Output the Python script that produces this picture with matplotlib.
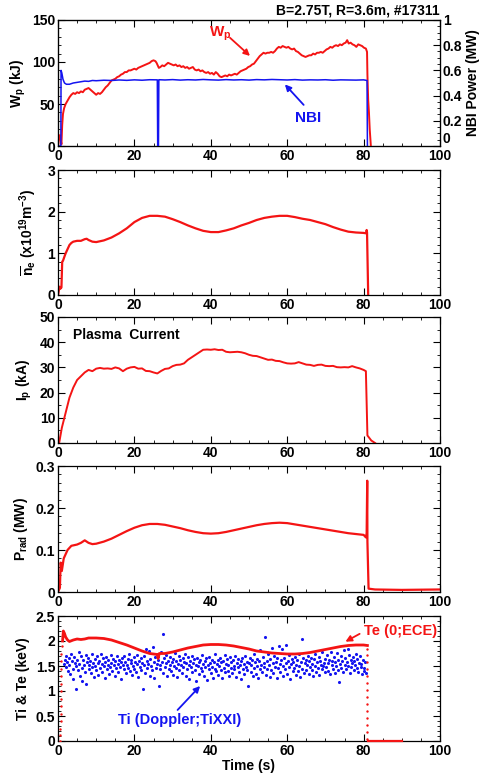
import numpy as np
import matplotlib
matplotlib.use("Agg")
import matplotlib.pyplot as plt
from matplotlib.ticker import MultipleLocator, FuncFormatter

plt.rcParams['font.family'] = ['Liberation Sans', 'DejaVu Sans']
plt.rcParams['font.weight'] = 'bold'
plt.rcParams['axes.labelweight'] = 'bold'
plt.rcParams['mathtext.fontset'] = 'custom'
plt.rcParams['mathtext.rm'] = 'Liberation Sans:bold'
plt.rcParams['mathtext.it'] = 'Liberation Sans:bold'
plt.rcParams['mathtext.bf'] = 'Liberation Sans:bold'
plt.rcParams['mathtext.default'] = 'rm'

RED = '#f41414'
BLUE = '#1414f0'

# ---------------- data ----------------
wp_time = [0, 0.3, 0.5, 0.7, 0.9, 1.1, 1.3, 1.6, 2.0, 2.5, 3.0, 3.5, 4.0, 4.5, 5.0, 5.5, 6.0, 6.5, 7.0, 7.5,
           8.0, 8.5, 9.0, 9.5, 10.0, 10.5, 11.0, 11.5, 12.0, 12.5, 13.0, 13.5, 14.0, 14.5, 15.0, 15.5, 16.0,
           16.5, 17.0, 17.5, 18.0, 18.5, 19.0, 19.5, 20.0, 20.5, 21.0, 21.5, 22.0, 22.5, 23.0, 23.5, 24.0,
           24.5, 25.0, 25.5, 25.8, 26.1, 26.4, 26.8, 27.3, 27.8, 28.3, 28.8, 29.3, 29.8, 30.3, 30.8, 31.3,
           31.8, 32.3, 32.8, 33.3, 33.8, 34.3, 34.8, 35.3, 35.8, 36.3, 36.8, 37.3, 37.8, 38.3, 38.8, 39.3,
           39.8, 40.3, 40.8, 41.3, 41.8, 42.3, 42.8, 43.3, 43.8, 44.3, 44.8, 45.3, 45.8, 46.3, 46.8, 47.3,
           47.8, 48.3, 48.8, 49.3, 49.8, 50.3, 50.8, 51.3, 51.8, 52.3, 52.8, 53.3, 53.8, 54.3, 54.8, 55.3,
           55.8, 56.3, 56.8, 57.3, 57.8, 58.3, 58.8, 59.3, 59.8, 60.3, 60.8, 61.3, 61.8, 62.3, 62.8, 63.3,
           63.8, 64.3, 64.8, 65.3, 65.8, 66.3, 66.8, 67.3, 67.8, 68.3, 68.8, 69.3, 69.8, 70.3, 70.8, 71.3,
           71.8, 72.3, 72.8, 73.3, 73.8, 74.3, 74.8, 75.3, 75.7, 76.1, 76.6, 77.1, 77.6, 78.1, 78.6, 79.1,
           79.6, 80.1, 80.6, 80.9, 81.0, 81.2, 81.4, 81.6, 81.9]
wp_kj = [0, 10, 13, 8, 2, 25, 38, 45, 50, 54, 58, 61, 63, 62, 64, 63, 65, 64, 67, 68,
         69, 67, 65, 63, 61, 63, 62, 64, 67, 70, 72, 75, 78, 79, 80, 82, 83,
         85, 86, 88, 88, 90, 90, 91, 92, 91, 93, 94, 95, 96, 97, 98, 99,
         101, 102, 101, 99, 96, 93, 94, 96, 95, 97, 99, 98, 97, 96, 97, 95,
         96, 94, 95, 93, 94, 92, 93, 94, 91, 90, 91, 89, 90, 88, 87, 88,
         86, 87, 85, 88, 86, 83, 82, 83, 84, 83, 85, 84, 85, 86, 85, 87,
         89, 90, 91, 92, 94, 95, 97, 98, 101, 104, 107, 109, 111, 110, 111, 111,
         112, 111, 113, 116, 118, 117, 119, 118, 117, 118, 116, 115, 116, 113, 112, 110,
         108, 107, 106, 107, 108, 108, 110, 109, 111, 111, 112, 111, 113, 115, 116, 118,
         117, 119, 120, 119, 121, 120, 122, 123, 126, 122, 123, 121, 120, 118, 121, 120,
         119, 117, 116, 112, 85, 55, 40, 20, 0]

nbi_time = [0, 0.75, 0.8, 1.0, 1.3, 1.7, 2.2, 3.0, 4.0, 5.0, 6.0, 7.0, 8.0, 9.0, 10, 12, 14, 16, 18, 20,
            22, 24, 26.0, 26.1, 26.3, 26.4, 28, 30, 32, 34, 36, 38, 40, 42, 44, 46, 48, 50, 52, 54, 56,
            58, 60, 62, 64, 66, 68, 70, 72, 74, 76, 78, 80, 80.9, 81.0]
nbi_mw = [0, 0, 0.6, 0.58, 0.53, 0.50, 0.49, 0.49, 0.50, 0.505, 0.51, 0.515, 0.513, 0.52, 0.518, 0.522, 0.52,
          0.524, 0.521, 0.525, 0.522, 0.526, 0.525, 0, 0, 0.526, 0.524, 0.527, 0.523, 0.526, 0.524, 0.528,
          0.525, 0.523, 0.527, 0.524, 0.526, 0.523, 0.527, 0.525, 0.528, 0.526, 0.524, 0.527, 0.523,
          0.525, 0.524, 0.526, 0.522, 0.525, 0.524, 0.523, 0.525, 0.52, 0]

ne_time = [0, 0.4, 0.6, 0.9, 1.1, 1.3, 1.6, 2, 2.5, 3, 3.5, 4, 5, 6, 7, 7.5, 8, 9, 10, 12, 14, 16, 18, 20,
           22, 24, 26, 28, 30, 32, 34, 36, 38, 40, 42, 44, 46, 48, 50, 52, 54, 56, 58, 60, 62, 64, 66,
           68, 70, 72, 74, 76, 78, 80, 80.7, 80.8, 80.9, 81.2]
ne_val = [0, 0.2, 0.15, 0.18, 0.8, 0.82, 0.9, 1.0, 1.1, 1.2, 1.25, 1.28, 1.3, 1.3, 1.34, 1.35, 1.32, 1.28,
          1.27, 1.31, 1.38, 1.48, 1.6, 1.75, 1.85, 1.9, 1.9, 1.88, 1.82, 1.75, 1.67, 1.6, 1.54, 1.51, 1.51,
          1.55, 1.6, 1.67, 1.73, 1.8, 1.85, 1.88, 1.9, 1.9, 1.87, 1.83, 1.8, 1.75, 1.7, 1.63, 1.57, 1.52,
          1.5, 1.49, 1.48, 1.56, 1.5, 0]

ip_time = [0, 0.3, 1, 2, 3, 4, 5, 6, 7, 8, 9, 10, 11, 12, 13, 14, 15, 16, 17, 18, 19, 20, 21, 22, 23, 24,
           25, 26, 27, 28, 29, 30, 31, 32, 33, 34, 35, 36, 37, 38, 39, 40, 41, 42, 43, 44, 45, 46, 47, 48,
           49, 50, 51, 52, 53, 54, 55, 56, 57, 58, 59, 60, 61, 62, 63, 64, 65, 66, 67, 68, 69, 70, 71, 72,
           73, 74, 75, 76, 77, 78, 79, 80, 80.6, 81.0, 81.5, 82, 83]
ip_ka = [0, 0, 6, 12, 18, 22, 25, 26.5, 28, 29, 28.5, 29.5, 29.8, 29.5, 29.6, 29.4, 30, 29.6, 28.5, 29.5,
         30, 30.2, 29.5, 29.6, 28.6, 28.5, 28, 27.6, 28.6, 29.4, 29.6, 30.5, 31, 31.1, 31.6, 33, 34, 35,
         36, 37, 37.1, 37, 37.2, 36.9, 37, 36.2, 36, 36.1, 36.2, 36, 35.6, 35, 34.6, 34.5, 34, 33.5, 33,
         33.1, 32.6, 32.5, 32, 31.6, 31.5, 31.6, 32.1, 31.6, 31.1, 31, 30.6, 31, 31.1, 30.6, 30.5, 30.6,
         30.1, 30, 30.1, 30, 30.5, 30, 29.6, 29, 28.5, 3, 2, 1, 0]

prad_time = [0, 0.5, 0.7, 1.0, 1.5, 2.5, 3.5, 5, 6, 7, 8, 9, 10, 12, 14, 16, 18, 20, 22, 24, 26, 28, 30, 32,
             34, 36, 38, 40, 42, 44, 46, 48, 50, 52, 54, 56, 58, 60, 62, 64, 66, 68, 70, 72, 74, 76, 78,
             80, 80.6, 80.8, 80.95, 81.0, 81.3, 83, 90, 100]
prad_mw = [0, 0.01, 0.07, 0.05, 0.08, 0.1, 0.11, 0.113, 0.117, 0.123, 0.117, 0.114, 0.115, 0.12, 0.127,
           0.136, 0.145, 0.153, 0.159, 0.162, 0.162, 0.16, 0.156, 0.152, 0.147, 0.143, 0.14, 0.139, 0.14,
           0.143, 0.147, 0.151, 0.155, 0.159, 0.162, 0.164, 0.165, 0.164, 0.161, 0.158, 0.155, 0.152,
           0.149, 0.146, 0.143, 0.14, 0.138, 0.136, 0.13, 0.14, 0.265, 0.12, 0.008, 0.006, 0.005, 0.006]

te_time = [1.2, 1.4, 1.7, 2.0, 2.5, 3, 4, 5, 6, 7, 8, 10, 12, 14, 16, 18, 20, 22, 24, 25, 26, 26.2, 26.5,
           28, 30, 32, 34, 36, 38, 40, 42, 44, 46, 48, 50, 52, 54, 56, 58, 60, 62, 64, 66, 68, 70, 72,
           74, 76, 78, 80, 81]
te_kev = [2.0, 2.2, 2.15, 2.08, 2.02, 1.99, 2.02, 2.04, 2.03, 2.04, 2.06, 2.06, 2.05, 2.02, 1.97, 1.92,
          1.86, 1.8, 1.75, 1.74, 1.73, 1.65, 1.75, 1.75, 1.78, 1.82, 1.86, 1.89, 1.92, 1.93, 1.93, 1.92,
          1.9, 1.87, 1.84, 1.8, 1.78, 1.76, 1.75, 1.74, 1.74, 1.75, 1.77, 1.8, 1.83, 1.86, 1.89, 1.91,
          1.92, 1.92, 1.91]

te_dots_time = [0.6, 0.62, 0.65, 0.68, 0.7, 0.72, 0.75, 0.78, 0.8, 0.82, 0.85, 0.88, 0.9, 0.95,
                80.9, 80.9, 80.9, 80.9, 80.9, 80.9, 80.9, 80.9, 80.9, 80.9, 80.9, 80.9, 80.9, 80.9]
te_dots_kev = [0.0, 0.12, 0.25, 0.4, 0.55, 0.7, 0.85, 1.0, 1.15, 1.3, 1.45, 1.6, 1.75, 1.9,
               1.85, 1.72, 1.58, 1.44, 1.3, 1.16, 1.02, 0.88, 0.74, 0.6, 0.46, 0.32, 0.18, 0.04]
te_zero_time = [81.2, 90.0]
te_zero_kev = [0.0, 0.0]

ti_t0, ti_dt = 1.6, 0.2
ti_kev = [
    1.55, 1.62, 1.48, 1.71, 1.58, 1.40, 1.66, 1.52, 1.35, 1.75, 1.60, 1.45, 1.25, 1.68, 1.57, 1.05, 1.50, 1.63, 1.42, 1.78,
    1.55, 1.30, 1.70, 1.47, 1.20, 1.62, 1.53, 1.38, 1.72, 1.15, 1.58, 1.66, 1.44, 1.52, 1.60, 1.36, 1.74, 1.49, 1.57, 1.28,
    1.64, 1.51, 1.42, 1.70, 1.56, 1.33, 1.61, 1.47, 1.75, 1.54, 1.39, 1.66, 1.50, 1.27, 1.58, 1.69, 1.45, 1.53, 1.62, 1.35,
    1.48, 1.73, 1.57, 1.41, 1.65, 1.52, 1.30, 1.60, 1.46, 1.71, 1.55, 1.38, 1.63, 1.49, 1.58, 1.24, 1.67, 1.53, 1.44, 1.70,
    1.59, 1.36, 1.52, 1.65, 1.47, 1.74, 1.41, 1.56, 1.62, 1.32, 1.50, 1.68, 1.45, 1.58, 1.39, 1.72, 1.54, 1.29, 1.61, 1.48,
    1.66, 1.43, 1.57, 1.05, 1.52, 1.70, 1.37, 1.85, 1.60, 1.46, 1.55, 1.80, 1.31, 1.64, 1.50, 1.42, 1.88, 1.58, 1.26, 1.68,
    1.47, 1.75, 1.55, 1.62, 1.10, 1.52, 1.44, 1.78, 1.59, 2.15, 1.36, 1.66, 1.49, 1.57, 1.72, 1.30, 1.61, 1.45, 1.53, 1.69,
    1.40, 1.58, 1.64, 1.33, 1.51, 1.76, 1.47, 1.60, 1.28, 1.55, 1.70, 1.43, 1.62, 1.52, 1.37, 1.66, 1.49, 1.59, 1.74, 1.31,
    1.56, 1.45, 1.68, 1.52, 1.25, 1.61, 1.48, 1.71, 1.39, 1.57, 1.64, 1.42, 1.53, 1.20, 1.67, 1.50, 1.58, 1.35, 1.62, 1.46,
    1.73, 1.41, 1.55, 1.30, 1.60, 1.48, 1.66, 1.22, 1.52, 1.44, 1.69, 1.57, 1.36, 1.62, 1.49, 1.27, 1.58, 1.45, 1.75, 1.40,
    1.54, 1.63, 1.33, 1.50, 1.67, 1.43, 1.58, 1.26, 1.61, 1.47, 1.72, 1.38, 1.55, 1.64, 1.41, 1.52, 1.30, 1.68, 1.46, 1.59,
    1.36, 1.62, 1.51, 1.44, 1.70, 1.28, 1.57, 1.48, 1.65, 1.39, 1.53, 1.60, 1.24, 1.66, 1.45, 1.55, 1.34, 1.71, 1.49, 1.58,
    1.42, 1.10, 1.56, 1.67, 1.38, 1.52, 1.62, 1.30, 1.74, 1.47, 1.58, 1.35, 1.65, 1.50, 1.27, 1.60, 1.44, 1.82, 1.53, 1.39,
    1.68, 1.48, 1.56, 2.08, 1.33, 1.61, 1.45, 1.75, 1.52, 1.29, 1.64, 1.42, 1.87, 1.57, 1.36, 1.70, 1.49, 1.58, 1.26, 1.66,
    1.46, 1.90, 1.54, 1.38, 1.62, 1.85, 1.50, 1.31, 1.67, 1.44, 1.57, 1.92, 1.35, 1.60, 1.48, 1.72, 1.25, 1.55, 1.64, 1.41,
    1.58, 1.47, 1.69, 1.33, 1.53, 1.62, 1.40, 1.75, 1.50, 1.28, 1.59, 2.05, 1.45, 1.66, 1.37, 1.56, 1.63, 1.43, 1.52, 1.71,
    1.35, 1.60, 1.49, 1.67, 1.42, 1.55, 1.30, 1.64, 1.51, 1.74, 1.39, 1.58, 1.46, 1.69, 1.33, 1.61, 1.53, 1.44, 1.78, 1.50,
    1.57, 1.38, 1.65, 1.48, 1.72, 1.56, 1.41, 1.62, 1.34, 1.79, 1.52, 1.60, 1.45, 1.68, 1.37, 1.58, 1.50, 1.76, 1.43, 1.63,
    1.18, 1.55, 1.70, 1.47, 1.61, 1.39, 1.82, 1.53, 1.66, 1.44, 1.59, 1.85, 1.50, 1.73, 1.36, 1.62, 1.48, 1.57, 1.69, 1.42,
    1.60, 1.52, 1.75, 1.46, 1.64, 1.38, 1.57, 1.70, 1.49, 1.55, 1.34, 1.62, 1.47, 1.40, 1.58, 1.36]
ti_time = ti_t0 + ti_dt * np.arange(len(ti_kev))

x_ticks = [0, 20, 40, 60, 80, 100]

# ---------------- figure ----------------
W, H = 482, 773
fig = plt.figure(figsize=(W / 100, H / 100), dpi=100)

def ax_at(top, bottom):
    l, r = 58, 440
    return fig.add_axes([l / W, 1 - bottom / H, (r - l) / W, (bottom - top) / H])

FS = 10
fmt = FuncFormatter(lambda v, p: f'{v:g}')

def style(ax, ymax, ymaj, ymin, right=True):
    ax.set_xlim(0, 100)
    ax.set_ylim(0, ymax)
    ax.set_xticks(x_ticks)
    ax.xaxis.set_minor_locator(MultipleLocator(5))
    ax.yaxis.set_major_locator(MultipleLocator(ymaj))
    ax.yaxis.set_minor_locator(MultipleLocator(ymin))
    ax.yaxis.set_major_formatter(fmt)
    ax.tick_params(which='both', direction='in', top=True, right=right, labelsize=FS)
    ax.tick_params(which='major', length=5, width=0.8, pad=2)
    ax.tick_params(which='minor', length=2.5, width=0.6)
    for s in ax.spines.values():
        s.set_linewidth(0.9)
    for lab in ax.get_xticklabels() + ax.get_yticklabels():
        lab.set_fontweight('bold')

# Panel 1
ax1 = ax_at(20, 146)
ax1.plot(wp_time, wp_kj, color=RED, lw=1.4, zorder=3)
style(ax1, 150, 50, 10, right=False)
ax1.set_ylabel(r'W$_\mathregular{p}$ (kJ)', fontsize=FS, fontweight='bold', labelpad=3)
ax1b = ax1.twinx()
ax1b.plot(nbi_time, nbi_mw, color=BLUE, lw=1.1, zorder=2)
ax1b.set_ylim(0, 1)
ax1b.yaxis.set_major_locator(MultipleLocator(0.2))
ax1b.yaxis.set_minor_locator(MultipleLocator(0.05))
ax1b.yaxis.set_major_formatter(fmt)
ax1b.tick_params(which='both', direction='in', labelsize=FS)
ax1b.tick_params(which='major', length=5, width=0.8, pad=2)
ax1b.tick_params(which='minor', length=2.5, width=0.6)
ax1b.set_ylabel('NBI Power (MW)', fontsize=FS, fontweight='bold', labelpad=3)
ax1.text(1.0, 1.02, 'B=2.75T, R=3.6m, #17311', transform=ax1.transAxes, ha='right', va='bottom',
         fontsize=FS, fontweight='bold')
ax1.annotate('', xy=(50.8, 105), xytext=(44.5, 131),
             arrowprops=dict(arrowstyle='-|>', color=RED, lw=1.3, mutation_scale=9))
ax1.text(39.5, 133, r'W$_\mathregular{p}$', color=RED, fontsize=FS + 1, fontweight='bold', va='center', ha='left')
ax1b.annotate('', xy=(58.9, 0.505), xytext=(64.8, 0.31),
              arrowprops=dict(arrowstyle='-|>', color=BLUE, lw=1.3, mutation_scale=9))
ax1b.text(62.0, 0.225, 'NBI', color=BLUE, fontsize=FS + 1, fontweight='bold', va='center', ha='left')

# Panel 2
ax2 = ax_at(170, 295)
ax2.plot(ne_time, ne_val, color=RED, lw=1.6)
style(ax2, 3, 1, 0.2)
ax2.set_ylabel(r'$\overline{\mathregular{n}}_\mathregular{e}$ (x10$^\mathregular{19}$m$^\mathregular{-3}$)',
               fontsize=FS, fontweight='bold', labelpad=6)

# Panel 3
ax3 = ax_at(317, 443)
ax3.plot(ip_time, ip_ka, color=RED, lw=1.4)
style(ax3, 50, 10, 5)
ax3.set_ylabel(r'I$_\mathregular{p}$ (kA)', fontsize=FS, fontweight='bold', labelpad=4)
ax3.text(3.8, 43, 'Plasma  Current', fontsize=FS, fontweight='bold', va='center', ha='left')

# Panel 4
ax4 = ax_at(466, 592)
ax4.plot(prad_time, prad_mw, color=RED, lw=1.6)
style(ax4, 0.3, 0.1, 0.02)
ax4.set_ylabel(r'P$_\mathregular{rad}$ (MW)', fontsize=FS, fontweight='bold', labelpad=4)

# Panel 5
ax5 = ax_at(616, 741)
ax5.scatter(ti_time, ti_kev, s=5, color=BLUE, linewidths=0, zorder=2)
ax5.plot(te_time, te_kev, color=RED, lw=2.0, zorder=3)
ax5.scatter(te_dots_time, te_dots_kev, s=3, color=RED, linewidths=0, zorder=3)
ax5.plot(te_zero_time, te_zero_kev, color=RED, lw=1.6, zorder=3, clip_on=False)
style(ax5, 2.5, 0.5, 0.1)
ax5.set_ylabel('Ti & Te (keV)', fontsize=FS, fontweight='bold', labelpad=4)
ax5.set_xlabel('Time (s)', fontsize=FS, fontweight='bold', labelpad=1)
ax5.annotate('', xy=(74.6, 1.96), xytext=(79.6, 2.17),
             arrowprops=dict(arrowstyle='-|>', color=RED, lw=1.3, mutation_scale=9))
ax5.text(80.2, 2.2, 'Te (0;ECE)', color=RED, fontsize=FS + 0.5, fontweight='bold', va='center', ha='left')
ax5.annotate('', xy=(37.7, 1.14), xytext=(30.8, 0.58),
             arrowprops=dict(arrowstyle='-|>', color=BLUE, lw=1.3, mutation_scale=9))
ax5.text(15.8, 0.42, 'Ti (Doppler;TiXXI)', color=BLUE, fontsize=FS + 0.5, fontweight='bold', va='center', ha='left')

# draw once so that tick labels exist, then lift the right-axis "0" clear of the "100" label
fig.canvas.draw()
for lab in ax1b.get_yticklabels():
    lab.set_fontweight('bold')
    if lab.get_text() == '0':
        lab.set_verticalalignment('bottom')
for ax in (ax1, ax2, ax3, ax4, ax5):
    for lab in ax.get_xticklabels() + ax.get_yticklabels():
        lab.set_fontweight('bold')

fig.savefig('out.png', dpi=100)
